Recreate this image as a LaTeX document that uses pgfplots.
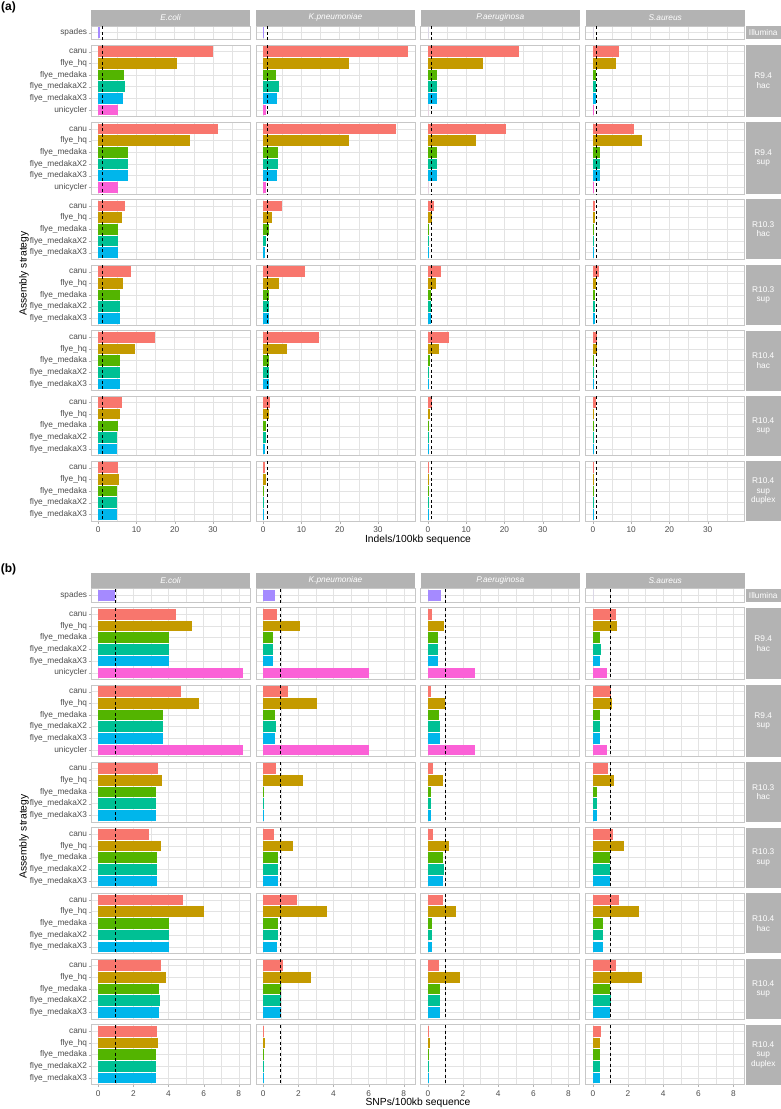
\documentclass[border=0pt]{standalone}
\usepackage{fontspec}
\setmainfont{Liberation Sans}
\usepackage{pgfplots}
\pgfplotsset{compat=1.18}

\definecolor{cA}{HTML}{F8766D}
\definecolor{cB}{HTML}{C49A00}
\definecolor{cC}{HTML}{53B400}
\definecolor{cD}{HTML}{00C094}
\definecolor{cE}{HTML}{00B6EB}
\definecolor{cF}{HTML}{A58AFF}
\definecolor{cG}{HTML}{FB61D7}
\definecolor{stripgrey}{HTML}{B3B3B3}

\newcommand\ticksize{\fontsize{8.3}{9.5}\selectfont}

\pgfplotscreateplotcyclelist{asm}{%
  fill=cA,draw=none\\fill=cB,draw=none\\fill=cC,draw=none\\
  fill=cD,draw=none\\fill=cE,draw=none\\fill=cG,draw=none\\}
\pgfplotscreateplotcyclelist{ill}{fill=cF,draw=none\\}

\pgfplotsset{
  facet/.style={
    scale only axis, width=159pt, anchor=north west,
    xbar, bar width=0.9, bar shift=0pt,
    y dir=reverse, ytick={0,...,5},
    xmajorgrids, xminorgrids, ymajorgrids,
    major grid style={black!11, line width=0.5pt},
    minor grid style={black!11, line width=0.25pt},
    axis line style={black!22, line width=0.8pt},
    tick align=outside, tick pos=left,
    major tick length=2.5pt, minor tick length=0pt,
    xtick style={draw=none}, ytick style={draw=none},
    xticklabels={}, yticklabels={},
    ticklabel style={font=\ticksize, text=black!70},
    yticklabel style={inner sep=1.2pt},
    /pgf/number format/assume math mode=true,
  },
  pa/.style={xmin=-1.89, xmax=39.69, xtick={0,10,20,30}, minor xtick={5,15,25,35}},
  pb/.style={xmin=-0.41, xmax=8.64, xtick={0,2,4,6,8}, minor xtick={1,3,5,7}},
  n1/.style={ymin=-0.564, ymax=0.564, cycle list name=ill},
  n5/.style={ymin=-0.564, ymax=4.564, cycle list name=asm},
  n6/.style={ymin=-0.564, ymax=5.564, cycle list name=asm},
  l1/.style={yticklabels={spades}, ytick style={draw=black!30}},
  l5/.style={yticklabels={canu,flye\_hq,flye\_medaka,flye\_medakaX2,flye\_medakaX3}, ytick style={draw=black!30}},
  l6/.style={yticklabels={canu,flye\_hq,flye\_medaka,flye\_medakaX2,flye\_medakaX3,unicycler}, ytick style={draw=black!30}},
  ba/.style={xticklabels={0,10,20,30}, xtick style={draw=black!30}},
  bb/.style={xticklabels={0,2,4,6,8}, xtick style={draw=black!30}},
}

% one bar per assembler, colours come from the cycle list
\newcount\barno
\newcommand\bars[1]{\barno=0
  \pgfplotsforeachungrouped \v in {#1}{%
    \edef\next{\noexpand\addplot coordinates {(\v,\the\barno)};}\next
    \advance\barno by 1 }}

\newcommand\facet[5]{%
  \begin{axis}[facet,#4,at={(#1pt,-#2pt)},height=#3pt]
    \bars{#5}
    \addplot[sharp plot, black, line width=0.8pt, dash pattern=on 3pt off 2.5pt] coordinates {(1,-1) (1,7)};
  \end{axis}}

% ytop, height, styles, left labels, E.coli, K.pneumoniae, P.aeruginosa, S.aureus
\newcommand\facetrow[8]{%
  \facet{91}{#1}{#2}{#3,#4}{#5}
  \facet{256}{#1}{#2}{#3}{#6}
  \facet{420.7}{#1}{#2}{#3}{#7}
  \facet{585.7}{#1}{#2}{#3}{#8}}

\newcommand\rstrip[3]{%
  \fill[stripgrey] (745.5pt,-#1pt) rectangle ++(35.5pt,-#2pt);
  \node[text=white, font=\ticksize, align=center] at (763.25pt,-#1pt-#2pt/2) {#3};}

\newcommand\tstrips[1]{%
  \foreach \x/\sp in {91/E.coli,256/K.pneumoniae,420.7/P.aeruginosa,585.7/S.aureus}{
    \fill[stripgrey] (\x pt,-#1pt) rectangle ++(159pt,-15.7pt);
    \node[text=white, font=\ticksize\itshape] at (\x pt+79.5pt,-#1pt-7.85pt) {\sp};}}

\begin{document}
\begin{tikzpicture}
\useasboundingbox (0,0) rectangle (781pt,-1109pt);

% ---------- (a) indels ----------
\facetrow{26}{13.3}{pa,n1}{l1}{0.5}{0.2}{0}{0}
\facetrow{45}{71.7}{pa,n6}{l6}{30.0,20.7,6.7,7.0,6.5,5.3}{37.8,22.5,3.4,4.1,3.5,0.6}{23.7,14.5,2.4,2.5,2.3,0}{6.9,6.1,0.7,0.75,0.75,0.4}
\facetrow{122.3}{71.7}{pa,n6}{l6}{31.4,24.1,7.7,7.8,7.7,5.3}{34.8,22.4,3.8,3.9,3.7,0.6}{20.4,12.7,2.3,2.5,2.3,0}{10.7,12.8,1.8,1.8,1.8,0.4}
\facetrow{199.3}{60}{pa,n5}{l5}{6.9,6.2,5.2,5.1,5.2}{4.8,2.4,1.4,0.6,0.45}{1.65,1.1,0.35,0.26,0.35}{0.5,0.45,0.35,0.35,0.35}
\facetrow{265}{60}{pa,n5}{l5}{8.6,6.4,5.6,5.6,5.6}{10.8,4.0,1.6,1.5,1.4}{3.3,2.0,0.7,0.7,0.7}{1.6,0.9,0.45,0.45,0.45}
\facetrow{330.7}{60}{pa,n5}{l5}{14.9,9.7,5.7,5.8,5.8}{14.5,6.1,1.6,1.5,1.4}{5.5,3.0,0.45,0.35,0.35}{1.05,1.05,0.35,0.35,0.35}
\facetrow{396}{59.5}{pa,n5}{l5}{6.1,5.6,5.1,5.0,5.0}{1.8,1.5,0.6,0.6,0.5}{1.1,0.45,0.35,0.26,0.26}{0.9,0.35,0.35,0.35,0.35}
\facetrow{461}{60}{pa,n5,ba}{l5}{5.3,5.5,5.0,5.0,5.0}{0.45,0.6,0.1,0.1,0.1}{0.1,0.35,0.26,0.26,0.26}{0.35,0.35,0.35,0.35,0.35}

\tstrips{10}
\rstrip{26}{13.3}{Illumina}
\rstrip{45}{71.7}{R9.4\\hac}
\rstrip{122.3}{71.7}{R9.4\\sup}
\rstrip{199.3}{60}{R10.3\\hac}
\rstrip{265}{60}{R10.3\\sup}
\rstrip{330.7}{60}{R10.4\\hac}
\rstrip{396}{59.5}{R10.4\\sup}
\rstrip{461}{60}{R10.4\\sup\\duplex}

\node[font=\fontsize{12}{14}\selectfont\bfseries] at (8.5pt,-7.5pt) {(a)};
\node[rotate=90, font=\fontsize{10.3}{12}\selectfont] at (24pt,-273.5pt) {Assembly strategy};
\node[font=\fontsize{10.3}{12}\selectfont] at (418pt,-540pt) {Indels/100kb sequence};

% ---------- (b) SNPs ----------
\facetrow{588.7}{13.3}{pb,n1}{l1}{0.98}{0.68}{0.74}{0}
\facetrow{607.7}{71.7}{pb,n6}{l6}{4.44,5.33,4.03,4.05,4.03,8.23}{0.76,2.08,0.57,0.57,0.55,6.03}{0.26,0.89,0.59,0.55,0.55,2.70}{1.30,1.36,0.42,0.45,0.42,0.78}
\facetrow{685}{71.7}{pb,n6}{l6}{4.73,5.75,3.71,3.71,3.71,8.23}{1.40,3.04,0.68,0.70,0.68,6.03}{0.19,1.00,0.64,0.66,0.66,2.70}{1.04,1.08,0.42,0.38,0.40,0.78}
\facetrow{762}{60}{pb,n5}{l5}{3.40,3.63,3.31,3.31,3.31}{0.70,2.25,0.04,0.04,0.04}{0.28,0.87,0.19,0.17,0.17}{0.85,1.21,0.26,0.26,0.26}
\facetrow{827.7}{60}{pb,n5}{l5}{2.91,3.59,3.35,3.35,3.35}{0.62,1.68,0.85,0.87,0.87}{0.28,1.19,0.85,0.89,0.87}{1.13,1.78,0.98,1.00,1.00}
\facetrow{893.4}{60}{pb,n5}{l5}{4.84,6.01,4.03,4.03,4.03}{1.95,3.61,0.83,0.87,0.79}{0.85,1.59,0.21,0.23,0.23}{1.46,2.65,0.59,0.59,0.59}
\facetrow{959}{60}{pb,n5}{l5}{3.55,3.86,3.48,3.50,3.48}{1.13,2.70,1.00,1.04,1.00}{0.62,1.85,0.70,0.70,0.68}{1.30,2.82,1.00,1.04,1.00}
\facetrow{1024.7}{60}{pb,n5,bb}{l5}{3.36,3.40,3.31,3.31,3.31}{0.06,0.08,0.04,0.04,0.04}{0.06,0.11,0.06,0.06,0.06}{0.47,0.43,0.38,0.38,0.38}

\tstrips{572.7}
\rstrip{588.7}{13.3}{Illumina}
\rstrip{607.7}{71.7}{R9.4\\hac}
\rstrip{685}{71.7}{R9.4\\sup}
\rstrip{762}{60}{R10.3\\hac}
\rstrip{827.7}{60}{R10.3\\sup}
\rstrip{893.4}{60}{R10.4\\hac}
\rstrip{959}{60}{R10.4\\sup}
\rstrip{1024.7}{60}{R10.4\\sup\\duplex}

\node[font=\fontsize{12}{14}\selectfont\bfseries] at (8.5pt,-569.5pt) {(b)};
\node[rotate=90, font=\fontsize{10.3}{12}\selectfont] at (24pt,-836.5pt) {Assembly strategy};
\node[font=\fontsize{10.3}{12}\selectfont] at (418pt,-1103pt) {SNPs/100kb sequence};
\end{tikzpicture}
\end{document}
